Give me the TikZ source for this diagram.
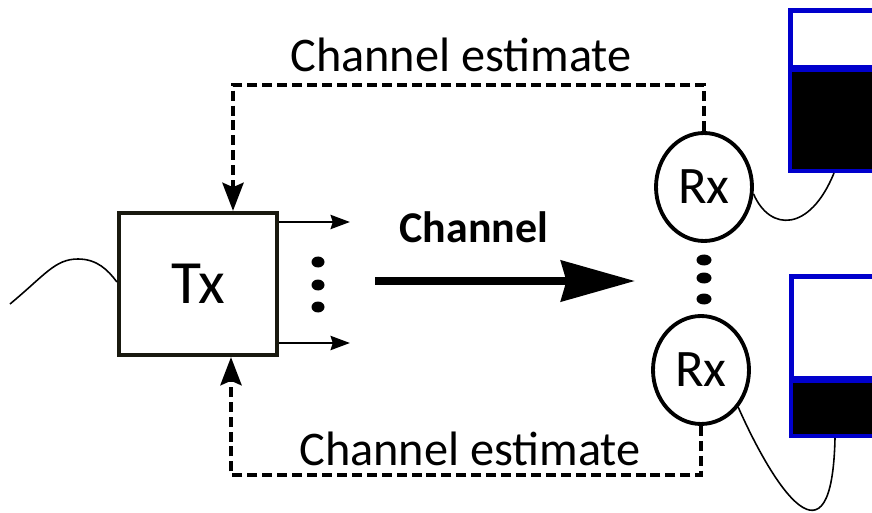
\documentclass[tikz,border=0pt]{standalone}
\usepackage{fontspec}
\setmainfont{Carlito}
\usepackage{xcolor}
\usetikzlibrary{shapes.geometric, arrows.meta, positioning}
\definecolor{rxblue}{RGB}{0,0,204}
\definecolor{boxedge}{RGB}{25,25,15}

\begin{document}
\begin{tikzpicture}[x=0.02cm, y=-0.02cm,
    txbox/.style={draw=boxedge, line width=2.4pt, minimum width=3.16cm, minimum height=2.84cm, inner sep=0pt, font=\fontsize{35}{40}\selectfont},
    rxnode/.style={draw, ellipse, line width=2.2pt, minimum width=1.92cm, minimum height=2.16cm, inner sep=0pt, font=\fontsize{30}{34}\selectfont},
    feedback/.style={line width=2.4pt, dash pattern=on 5.7pt off 2.8pt, -{Stealth[length=16pt, width=12pt, inset=2.5pt]}},
    outarrow/.style={line width=1.6pt, -{Stealth[length=11pt, width=8pt, inset=1.2pt]}},
    wire/.style={line width=0.9pt},
    bluebox/.style={draw=rxblue, line width=2.8pt, fill=white}]
\useasboundingbox (0,0) rectangle (872,513);
% Transmitter and receivers
\node[txbox] (tx) at (198,284) {Tx};
\node[rxnode] (rxa) at (704,187) {Rx};
\node[rxnode] (rxb) at (701,370) {Rx};
% Input signal
\draw[wire] (10,304) .. controls (45,275) and (55,259) .. (78,259)
    .. controls (97,259) and (108,270) .. (tx.west |- 0,282);
% Tx outputs
\coordinate (outa) at (350,222);
\coordinate (outb) at (350,343);
\draw[outarrow] (outa -| tx.east) -- (outa);
\draw[outarrow] (outb -| tx.east) -- (outb);
\foreach \y in {262,285,307}
    \fill (318,\y) ellipse [x radius=6.5, y radius=5.5];
\foreach \y in {260,278,299}
    \fill (704,\y) ellipse [x radius=7.5, y radius=5.5];
% Channel
\coordinate (chs) at (375,281);
\coordinate (che) at (635,281);
\draw[line width=4.5pt, -{Stealth[length=42pt, width=23pt, inset=3pt]}] (chs) -- (che);
\node[font=\fontsize{25}{30}\selectfont\bfseries, anchor=base] (chlbl) at (474,243) {Channel};
% Feedback paths
\coordinate (fbtop) at (233,85);
\coordinate (fbbot) at (231,475);
\draw[feedback] (rxa.north) |- (fbtop) -- (fbtop |- tx.north);
\draw[feedback] (rxb.south) |- (fbbot) -- (fbbot |- tx.south);
\node[font=\fontsize{27.5}{32}\selectfont, anchor=base] (esta) at (461,72) {Channel estimate};
\node[font=\fontsize{27.5}{32}\selectfont, anchor=base] (estb) at (470,465) {Channel estimate};
% Displays
\draw[bluebox] (790.5,10.5) rectangle (885,170.5);
\fill[black] (792,70) rectangle (885,169);
\draw[rxblue, line width=4pt] (790.5,68.5) -- (885,68.5);
\draw[bluebox] (791.5,276.5) rectangle (885,435.5);
\fill[black] (793,380) rectangle (885,434);
\draw[rxblue, line width=4.5pt] (791.5,379.5) -- (885,379.5);
\coordinate (dispa) at (834,173);
\coordinate (dispb) at (835,438);
\draw[wire] (rxa.-8) .. controls (770,232) and (810,232) .. (dispa);
\draw[wire] (rxb.-45) .. controls (775,490) and (832,575) .. (dispb);
\end{tikzpicture}
\end{document}
